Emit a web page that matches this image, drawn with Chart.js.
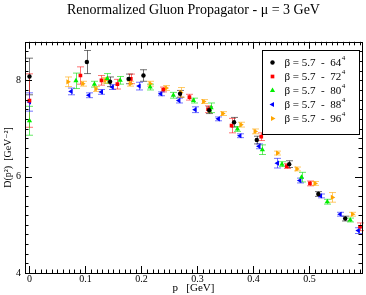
<!DOCTYPE html>
<html>
<head>
<meta charset="utf-8">
<script src="https://cdn.jsdelivr.net/npm/chart.js@4.4.1/dist/chart.umd.min.js"></script>
<style>
  html, body { margin: 0; padding: 0; background: #fff; }
</style>
</head>
<body>
<canvas id="chart" width="366" height="295"></canvas>
<script>
// beta = 5.7, 64^4
const p64 = [0, 0.1025, 0.144, 0.177, 0.2036, 0.269, 0.321, 0.3655, 0.406, 0.464, 0.516, 0.564];
const d64 = [8.08, 8.38, 7.97, 8.03, 8.10, 7.72, 7.38, 7.13, 6.76, 6.26, 5.64, 5.13];
const e64 = [0.38, 0.24, 0.10, 0.10, 0.12, 0.07, 0.07, 0.10, 0.08, 0.07, 0.05, 0.05];

// beta = 5.7, 72^4
const p72 = [0, 0.091, 0.1286, 0.157, 0.181, 0.239, 0.2857, 0.319, 0.361, 0.414, 0.4596, 0.501, 0.5905];
const d72 = [7.58, 8.10, 8.00, 7.92, 8.03, 7.81, 7.65, 7.40, 7.06, 6.83, 6.22, 5.86, 4.96];
const e72 = [0.555, 0.18, 0.10, 0.10, 0.10, 0.05, 0.06, 0.07, 0.15, 0.08, 0.05, 0.05, 0.08];

// beta = 5.7, 80^4
const p80 = [0, 0.083, 0.116, 0.139, 0.162, 0.2155, 0.257, 0.293, 0.3245, 0.3715, 0.416, 0.451, 0.486, 0.532, 0.573];
const d80 = [7.16, 7.99, 7.92, 8.04, 8.00, 7.86, 7.69, 7.58, 7.43, 6.99, 6.56, 6.26, 5.99, 5.48, 5.10];
const e80 = [0.30, 0.16, 0.06, 0.10, 0.08, 0.06, 0.06, 0.05, 0.10, 0.05, 0.10, 0.05, 0.10, 0.05, 0.04];

// beta = 5.7, 88^4
const p88 = [0, 0.0745, 0.106, 0.1286, 0.148, 0.196, 0.2346, 0.267, 0.296, 0.3375, 0.376, 0.41, 0.443, 0.483, 0.52, 0.555, 0.5875];
const d88 = [7.55, 7.77, 7.69, 7.76, 7.86, 7.88, 7.72, 7.58, 7.39, 7.20, 6.85, 6.63, 6.28, 5.92, 5.60, 5.22, 4.88];
const e88 = [0.19, 0.07, 0.05, 0.05, 0.05, 0.08, 0.04, 0.05, 0.06, 0.04, 0.04, 0.05, 0.10, 0.05, 0.04, 0.04, 0.06];

// beta = 5.7, 96^4
const p96 = [0.0686, 0.095, 0.1185, 0.135, 0.18, 0.2155, 0.244, 0.27, 0.311, 0.345, 0.3775, 0.403, 0.443, 0.4775, 0.51, 0.541, 0.577];
const d96 = [7.97, 7.93, 7.82, 8.00, 7.93, 7.93, 7.84, 7.75, 7.56, 7.31, 7.08, 6.94, 6.49, 6.16, 5.86, 5.57, 5.22];
const e96 = [0.10, 0.05, 0.05, 0.06, 0.05, 0.05, 0.05, 0.10, 0.04, 0.04, 0.05, 0.05, 0.04, 0.04, 0.04, 0.10, 0.04];

const labels = ['64', '72', '80', '88', '96'];
const colors = ['#000000', '#ff0000', '#00ee00', '#0000ff', '#ffa500'];
const barColors = ['rgba(0,0,0,0.55)', 'rgba(255,0,0,0.55)', 'rgba(0,220,0,0.6)', 'rgba(0,0,255,0.55)', 'rgba(255,165,0,0.6)'];
const styles = ['circle', 'rect', 'triangle', 'triangle', 'triangle'];
const rotations = [0, 0, 0, -90, 90];
const radii = [2.2, 2.6, 3, 3, 3];

const serif = '"Liberation Serif", "DejaVu Serif", serif';

function makeSet(i, ps, ds, es) {
    return {
        label: 'β = 5.7  -  ' + labels[i],
        data: ps.map((p, k) => ({ x: p, y: ds[k], err: es[k] })),
        backgroundColor: colors[i],
        borderColor: colors[i],
        pointStyle: styles[i],
        rotation: rotations[i],
        pointRadius: radii[i],
        pointBorderWidth: 0,
        barColor: barColors[i],
    };
}

const datasets = [
    makeSet(0, p64, d64, e64),
    makeSet(1, p72, d72, e72),
    makeSet(2, p80, d80, e80),
    makeSet(3, p88, d88, e88),
    makeSet(4, p96, d96, e96),
];

// Error bars, drawn under the markers
const errorBars = {
    id: 'errorBars',
    beforeDatasetsDraw(chart) {
        const ctx = chart.ctx;
        const xs = chart.scales.x;
        const ys = chart.scales.y;
        ctx.save();
        ctx.lineWidth = 1;
        chart.data.datasets.forEach(ds => {
            ctx.strokeStyle = ds.barColor;
            ds.data.forEach(pt => {
                const x = Math.round(xs.getPixelForValue(pt.x)) + 0.5;
                const y1 = ys.getPixelForValue(pt.y + pt.err);
                const y2 = ys.getPixelForValue(pt.y - pt.err);
                ctx.beginPath();
                ctx.moveTo(x, y1);
                ctx.lineTo(x, y2);
                ctx.moveTo(x - 3.5, y1);
                ctx.lineTo(x + 3.5, y1);
                ctx.moveTo(x - 3.5, y2);
                ctx.lineTo(x + 3.5, y2);
                ctx.stroke();
            });
        });
        ctx.restore();
    }
};

// Frame with inward ticks on all four sides
function sideTicks(ctx, scale, horizontal, area, minor, ratio) {
    const start = Math.ceil(scale.min / minor - 1e-6);
    const end = Math.floor(scale.max / minor + 1e-6);
    for (let i = start; i <= end; i++) {
        const len = (i % ratio === 0) ? 7 : 3.5;
        const pos = Math.round(scale.getPixelForValue(i * minor)) + 0.5;
        if (horizontal) {
            ctx.moveTo(pos, area.bottom);
            ctx.lineTo(pos, area.bottom - len);
            ctx.moveTo(pos, area.top);
            ctx.lineTo(pos, area.top + len);
        } else {
            ctx.moveTo(area.left, pos);
            ctx.lineTo(area.left + len, pos);
            ctx.moveTo(area.right, pos);
            ctx.lineTo(area.right - len, pos);
        }
    }
}

const frame = {
    id: 'frame',
    afterDatasetsDraw(chart) {
        const ctx = chart.ctx;
        const a = chart.chartArea;
        ctx.save();
        ctx.strokeStyle = '#000';
        ctx.lineWidth = 1;
        ctx.beginPath();
        sideTicks(ctx, chart.scales.x, true, a, 0.01, 10);
        sideTicks(ctx, chart.scales.y, false, a, 0.2, 10);
        ctx.stroke();
        ctx.strokeRect(Math.round(a.left) + 0.5, Math.round(a.top) + 0.5,
            Math.round(a.right - a.left), Math.round(a.bottom - a.top));
        ctx.restore();
    }
};

// Legend box inside the plot
const boxLegend = {
    id: 'boxLegend',
    afterDraw(chart) {
        const ctx = chart.ctx;
        const left = 262.5, top = 50.5, w = 97, h = 84;
        ctx.save();
        ctx.fillStyle = '#fff';
        ctx.fillRect(left, top, w, h);
        ctx.strokeStyle = '#000';
        ctx.lineWidth = 1;
        ctx.strokeRect(left, top, w, h);
        chart.data.datasets.forEach((ds, i) => {
            const y = top + 12 + i * 14;
            ctx.fillStyle = ds.backgroundColor;
            ctx.strokeStyle = ds.backgroundColor;
            Chart.helpers.drawPoint(ctx, {
                pointStyle: ds.pointStyle, rotation: ds.rotation,
                radius: ds.pointRadius, borderWidth: 0
            }, left + 10, y);
            ctx.fillStyle = '#000';
            ctx.font = '11px ' + serif;
            ctx.textBaseline = 'middle';
            ctx.textAlign = 'left';
            ctx.fillText(ds.label, left + 22, y + 1);
            const tw = ctx.measureText(ds.label).width;
            ctx.font = '7px ' + serif;
            ctx.fillText('4', left + 22 + tw + 0.5, y - 4);
        });
        ctx.restore();
    }
};

function onStep(v, step) {
    const r = v / step;
    return Math.abs(r - Math.round(r)) < 1e-6;
}

new Chart(document.getElementById('chart'), {
    type: 'scatter',
    data: { datasets: datasets },
    options: {
        responsive: false,
        animation: false,
        layout: { padding: { top: 0, right: 4, bottom: 0, left: 0 } },
        plugins: {
            legend: { display: false },
            tooltip: { enabled: false },
            title: {
                display: true,
                fullSize: false,
                text: 'Renormalized Gluon Propagator - μ = 3 GeV',
                color: '#000',
                font: { family: serif, size: 14, weight: 'normal' },
                padding: { top: 2, bottom: 23 },
            },
        },
        scales: {
            x: {
                type: 'linear',
                min: -0.008,
                max: 0.594,
                afterFit(scale) { scale.height = 22; },
                grid: { display: false, drawTicks: false },
                border: { display: false },
                ticks: {
                    stepSize: 0.1,
                    includeBounds: false,
                    autoSkip: false,
                    padding: 0,
                    color: '#000',
                    font: { family: serif, size: 10 },
                    callback: v => {
                        if (!onStep(v, 0.1)) return '';
                        return Math.abs(v) < 1e-9 ? '0' : String(Math.round(v * 10) / 10);
                    },
                },
                title: {
                    display: true,
                    text: 'p   [GeV]',
                    color: '#000',
                    font: { family: serif, size: 11 },
                    padding: { top: 0, bottom: 0 },
                },
            },
            y: {
                type: 'linear',
                min: 4,
                max: 8.8,
                afterFit(scale) { scale.width = 25; },
                grid: { display: false, drawTicks: false },
                border: { display: false },
                ticks: {
                    stepSize: 2,
                    includeBounds: false,
                    padding: 4,
                    color: '#000',
                    font: { family: serif, size: 10 },
                    callback: v => (onStep(v, 2) ? String(v) : ''),
                },
                title: {
                    display: true,
                    text: 'D(p²)  [GeV⁻²]',
                    color: '#000',
                    font: { family: serif, size: 10 },
                    padding: { top: 2, bottom: 0 },
                },
            },
        },
    },
    plugins: [errorBars, frame, boxLegend],
});
</script>
</body>
</html>
